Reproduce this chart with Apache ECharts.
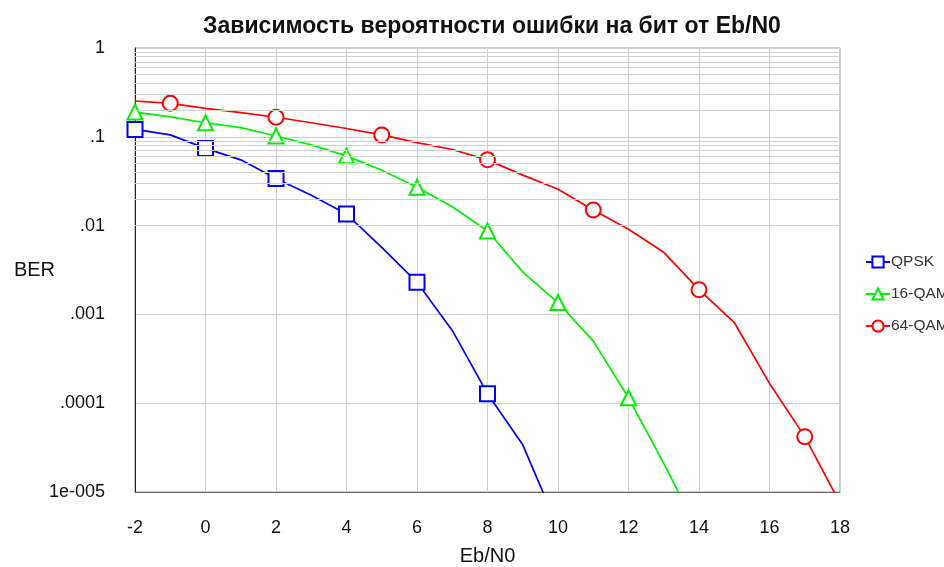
<!DOCTYPE html>
<html>
<head>
<meta charset="utf-8">
<script src="https://cdn.jsdelivr.net/npm/echarts@6/dist/echarts.min.js"></script>
<style>html,body{margin:0;padding:0;background:#fff;}#chart{width:944px;height:567px;}</style>
</head>
<body>
<div id="chart"></div>
<script>
// ---- data ----
const qpskX   = [-2, -1, 0, 1, 2, 3, 4, 5, 6, 7, 8, 9, 10];
const qpskBer = [0.121, 0.105, 0.074, 0.055, 0.034, 0.022, 0.0135, 0.0057, 0.0023, 0.00066, 0.000128, 0.000034, 0.000004];
const qpskMarks = [-2, 0, 2, 4, 6, 8];

const qam16X   = [-2, -1, 0, 1, 2, 3, 4, 5, 6, 7, 8, 9, 10, 11, 12, 13, 14];
const qam16Ber = [0.19, 0.168, 0.144, 0.127, 0.102, 0.081, 0.061, 0.042, 0.027, 0.0163, 0.0087, 0.0030, 0.00136, 0.0005, 0.000115, 0.000021, 0.0000035];
const qam16Marks = [-2, 0, 2, 4, 6, 8, 10, 12];

const qam64X   = [-2, -1, 0, 1, 2, 3, 4, 5, 6, 7, 8, 9, 10, 11, 12, 13, 14, 15, 16, 17, 18];
const qam64Ber = [0.253, 0.238, 0.209, 0.187, 0.166, 0.144, 0.124, 0.105, 0.086, 0.072, 0.055, 0.037, 0.0257, 0.015, 0.0091, 0.005, 0.0019, 0.00081, 0.000167, 0.000042, 0.0000075];
const qam64Marks = [-1, 2, 5, 8, 11, 14, 17];

const seriesNames = ['QPSK', '16-QAM', '64-QAM'];
const yTickValues = [1, 0.1, 0.01, 0.001, 0.0001, 0.00001];
const yTickLabels = ['1', '.1', '.01', '.001', '.0001', '1e-005'];
const minorMantissas = [2, 3, 4, 5, 6, 7, 8, 9];

const titleText = 'Зависимость вероятности ошибки на бит от Eb/N0';
const xName = 'Eb/N0';
const yName = 'BER';

// ---- build ----
const FONT = "'Liberation Sans', Arial, sans-serif";
function build(xs, ys, marks, sym) {
  return xs.map((x, i) => ({ value: [x, ys[i]], symbol: marks.indexOf(x) >= 0 ? sym : 'none' }));
}
const minorLines = [];
for (let k = 0; k < yTickValues.length - 1; k++) {
  const base = yTickValues[k + 1];
  minorMantissas.forEach(m => minorLines.push({ yAxis: base * m }));
}

function mkSeries(name, data, sym, color) {
  return {
    name, type: 'line', data, symbol: sym, symbolSize: 15, showAllSymbol: true,
    clip: true, z: 3,
    lineStyle: { color, width: 1.7 },
    itemStyle: { color: color, borderColor: color, borderWidth: 1.7 },
    emphasis: { disabled: true }
  };
}

const chart = echarts.init(document.getElementById('chart'), null, { renderer: 'canvas' });
chart.setOption({
  animation: false,
  backgroundColor: '#fff',
  textStyle: { fontFamily: FONT },
  title: {
    text: titleText, left: 487, top: 10, textAlign: 'center',
    textStyle: { fontFamily: FONT, fontSize: 23, fontWeight: 'bold', color: '#111' }
  },
  legend: {
    orient: 'vertical', left: 860, top: 249, itemGap: 16,
    itemWidth: 24, itemHeight: 14,
    data: seriesNames,
    textStyle: { fontFamily: FONT, fontSize: 15.5, color: '#333', padding: [0, 0, 0, -4] }
  },
  grid: {
    left: 135, right: 104, top: 48, bottom: 75, show: true, borderColor: '#999', borderWidth: 1,
    outerBoundsMode: 'none', containLabel: false
  },
  xAxis: {
    type: 'value', min: -2, max: 18, interval: 2,
    name: xName, nameLocation: 'middle', nameGap: 54, nameMoveOverlap: false,
    nameTextStyle: { fontFamily: FONT, fontSize: 20, color: '#111' },
    axisLine: { show: true, onZero: false, lineStyle: { color: '#666' } },
    axisTick: { show: false },
    axisLabel: { margin: 27, fontFamily: FONT, fontSize: 18, color: '#111' },
    splitLine: { show: true, lineStyle: { color: '#d0d0d0', width: 1 } }
  },
  yAxis: {
    type: 'log', logBase: 10, min: 0.00001, max: 1, splitNumber: 5,
    name: yName, nameLocation: 'middle', nameRotate: 0, nameGap: 80, nameMoveOverlap: false,
    nameTextStyle: { fontFamily: FONT, fontSize: 20, color: '#111' },
    axisLine: { show: true, onZero: false, lineStyle: { color: '#222' } },
    axisTick: { show: false },
    axisLabel: {
      margin: 30, fontFamily: FONT, fontSize: 18, color: '#111',
      formatter: function (v) {
        for (let i = 0; i < yTickValues.length; i++) {
          if (Math.abs(Math.log10(v) - Math.log10(yTickValues[i])) < 1e-6) return yTickLabels[i];
        }
        return '';
      }
    },
    splitLine: { show: true, lineStyle: { color: '#d0d0d0', width: 1 } }
  },
  series: [
    {
      name: 'minor-grid', type: 'line', data: [], z: 1, silent: true,
      markLine: {
        silent: true, symbol: ['none', 'none'], animation: false,
        label: { show: false },
        lineStyle: { color: '#d0d0d0', width: 1, type: 'solid' },
        emphasis: { disabled: true },
        data: minorLines
      }
    },
    mkSeries(seriesNames[0], build(qpskX, qpskBer, qpskMarks, 'emptyRect'), 'emptyRect', '#0000ff'),
    mkSeries(seriesNames[1], build(qam16X, qam16Ber, qam16Marks, 'emptyTriangle'), 'emptyTriangle', '#00ee00'),
    mkSeries(seriesNames[2], build(qam64X, qam64Ber, qam64Marks, 'emptyCircle'), 'emptyCircle', '#ff0000')
  ]
});
</script>
</body>
</html>
